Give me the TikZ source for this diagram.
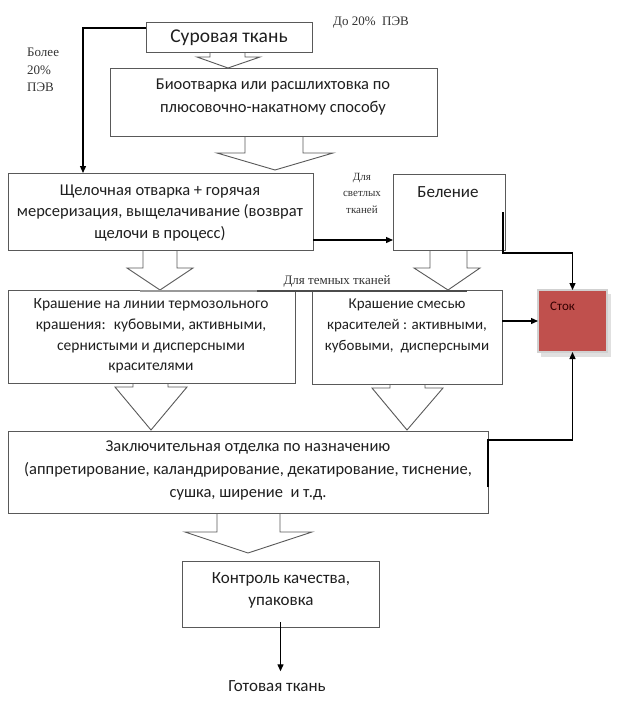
\documentclass[tikz,border=0pt]{standalone}
\usepackage{fontspec}
\setmainfont{Carlito}
\newfontfamily\serifl{Liberation Serif}
\usetikzlibrary{arrows.meta,calc}
\definecolor{stokred}{RGB}{192,80,77}
\newcommand\mybox[5]{\node[box, minimum width={(#4-#2)*1pt}, minimum height={(#5-#3)*1pt}] (#1) at ({(#2+#4)/2},{(#3+#5)/2}) {};}
\newcommand\barr[8]{\draw[barrow] (#1,#3) -- (#1,#4) -- (#5,#4) -- (#7,#8) -- (#6,#4) -- (#2,#4) -- (#2,#3);}
\newcommand\fs[2]{\fontsize{#1}{#2}\selectfont}
\begin{document}
\begin{tikzpicture}[x=1pt,y=-1pt,
 box/.style={draw=black!65, line width=0.9pt, inner sep=0pt, outer sep=0pt},
 txt/.style={align=center, inner sep=0pt, text=black!88},
 lbl/.style={align=center, inner sep=0pt, text=black!80},
 conn/.style={line width=1.3pt, black},
 arr/.style={conn, -{Triangle[length=7pt,width=6pt]}},
 barrow/.style={draw=black!65, line width=0.9pt, line join=miter},
]
\useasboundingbox (0,0) rectangle (618,704);
\fill[white] (0,0) rectangle (618,704);

% boxes
\mybox{sur}{146}{22}{312}{52}
\node[txt, font=\fs{19.5}{22}] (surt) at (229,38) {Суровая ткань};

\mybox{bio}{110}{68}{437}{136}
\node[txt, font=\fs{16.5}{23}] (biot) at (273,97) {Биоотварка или расшлихтовка по\\плюсовочно-накатному способу};

\mybox{shch}{8}{173}{313}{250}
\node[txt, font=\fs{16.5}{21.5}] (shcht) at (160,213) {Щелочная отварка + горячая\\мерсеризация, выщелачивание (возврат\\щелочи в процесс)};

\mybox{bel}{393}{174}{505}{250}
\node[txt, font=\fs{17}{20}] (belt) at (448,192) {Беление};

\mybox{kr1}{8}{290}{295}{383}
\node[txt, font=\fs{15.5}{20.7}] (kr1t) at (151,336) {Крашение на линии термозольного\\крашения:~ кубовыми, активными,\\сернистыми и дисперсными\\красителями};

\mybox{kr2}{312}{290}{502}{384}
\node[txt, font=\fs{15}{21}] (kr2t) at (407,326) {Крашение смесью\\красителей : активными,\\кубовыми,~ дисперсными};

\fill[black!12] (541,294) rectangle (611,357);
\node[box, draw=black!18, line width=1.5pt, fill=stokred, minimum width=69pt, minimum height=62pt] (stok) at (572.5,321) {};
\node[font=\fs{13}{15}, text=black!80!red, anchor=west, inner sep=0pt] (stokt) at (550,306) {Сток};

\mybox{zakl}{8}{431}{488}{513}
\node[txt, font=\fs{16.5}{23}] (zaklt) at (248,471) {Заключительная отделка по назначению\\(аппретирование, каландрирование, декатирование, тиснение,\\сушка, ширение~ и т.д.};

\mybox{kon}{182}{561}{379}{627}
\node[txt, font=\fs{17}{22}] (kont) at (281,590) {Контроль качества,\\упаковка};

\node[txt, font=\fs{17}{20}] (got) at (277,686) {Готовая ткань};

% labels
\node[lbl, font=\serifl\fs{13}{16}, anchor=west] (do20) at (333,23) {До 20\%~ ПЭВ};
\node[lbl, font=\serifl\fs{13}{17.5}, align=left, anchor=north west] (bolee) at (27,48) {Более\\20\%\\ПЭВ};
\node[lbl, font=\serifl\fs{11}{16.5}] (svet) at (362,193) {Для\\светлых\\тканей};
\node[lbl, font=\serifl\fs{13}{16}] (tem) at (337,281) {Для темных тканей};

% block arrows
\barr{210}{245}{52}{57}{197}{260}{228}{68}
\barr{245}{303}{136}{153}{217}{333}{275}{170}
\barr{143}{177}{250}{268}{127}{193}{160}{290}
\barr{430}{467}{250}{268}{414}{480}{448}{290}
\barr{133}{168}{383}{387}{115}{187}{151}{430}
\barr{390}{425}{384}{388}{372}{443}{407}{430}
\barr{217}{280}{513}{532}{185}{312}{248}{553}

% dark-fabric line
\coordinate (d1) at (140,291);
\coordinate (d2) at (257,291);
\coordinate (d3) at (467,291);
\draw[line width=1.5pt, black!40] (d1) -- (d2);
\draw[line width=1.5pt, black!70] (d2) -- (d3);

% connectors
\coordinate (lc) at (83,28);
\draw[arr] ([yshift=-6pt]sur.north west) -- (lc) -- (lc |- shch.north);
\draw[arr] ([yshift=10pt]shch.south east) -- ([yshift=10pt]shch.south east -| bel.west);
\draw[arr] ([xshift=-2pt]bel.east) -- ++(0,41) -| (stok.north);
\draw[arr] (kr2.east |- stok.west) -- (stok.west);
\draw[arr] ([yshift=26pt]zakl.south east) -- ([yshift=-9pt]zakl.north east) -| (stok.south);
\draw[arr, shorten >=4pt] ([yshift=5pt]kon.south) -- ([yshift=5pt]kon.south |- got.north);
\end{tikzpicture}
\end{document}
